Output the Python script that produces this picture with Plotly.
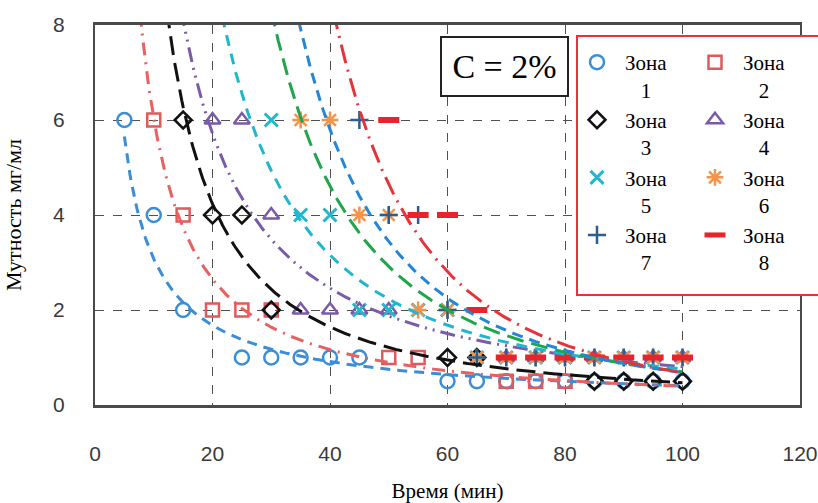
import numpy as np
import plotly.graph_objects as go

# ---------------- data ----------------
zone_labels = ["1", "2", "3", "4", "5", "6", "7", "8"]

z1_t = [5, 10, 15, 25, 30, 35, 40, 45, 60, 65, 70, 75, 80, 85, 90, 95, 100]
z1_y = [6, 4, 2, 1, 1, 1, 1, 1, 0.5, 0.5, 0.5, 0.5, 0.5, 0.5, 0.5, 0.5, 0.5]

z2_t = [10, 15, 20, 25, 30, 50, 55, 70, 75, 80]
z2_y = [6, 4, 2, 2, 2, 1, 1, 0.5, 0.5, 0.5]

z3_t = [15, 20, 25, 30, 60, 65, 85, 90, 95, 100]
z3_y = [6, 4, 4, 2, 1, 1, 0.5, 0.5, 0.5, 0.5]

z4_t = [20, 25, 30, 35, 40, 45, 50, 70, 75, 80, 85, 90, 95, 100]
z4_y = [6, 6, 4, 2, 2, 2, 2, 1, 1, 1, 1, 1, 1, 1]

z5_t = [30, 35, 40, 45, 50, 55, 60, 65, 70, 75, 80, 85, 90, 95, 100]
z5_y = [6, 4, 4, 2, 2, 2, 2, 1, 1, 1, 1, 1, 1, 1, 1]

z6_t = [35, 40, 45, 50, 55, 60, 65, 70, 75, 80, 85, 90, 95, 100]
z6_y = [6, 6, 4, 4, 2, 2, 1, 1, 1, 1, 1, 1, 1, 1]

z7_t = [45, 50, 55, 60, 65, 70, 75, 80, 85, 90, 95, 100]
z7_y = [6, 4, 4, 2, 1, 1, 1, 1, 1, 1, 1, 1]

z8_t = [50, 55, 60, 65, 70, 75, 80, 85, 90, 95, 100]
z8_y = [6, 4, 4, 2, 1, 1, 1, 1, 1, 1, 1]

x_ticks = [0, 20, 40, 60, 80, 100, 120]
y_ticks = [0, 2, 4, 6, 8]
trend_span = [5, 100]   # trend lines drawn over the measured time span

# ---------------- styles ----------------
series = [
    (z1_t, z1_y, dict(symbol="circle-open", size=14, color="#3B8ED6", lw=2.5), "#3B8ED6", "10px,7px"),
    (z2_t, z2_y, dict(symbol="square-open", size=13, color="#E05A5C", lw=2.5), "#E8605F", "13px,7px,2px,7px"),
    (z3_t, z3_y, dict(symbol="diamond-open", size=13, color="#111111", lw=2.5), "#111111", "19px,8px"),
    (z4_t, z4_y, dict(symbol="triangle-up-open", size=14, color="#7A5BA8", lw=2.5), "#7A5BA8", "15px,6px,2px,6px,2px,6px"),
    (z5_t, z5_y, dict(symbol="x-thin-open", size=13, color="#22B8CC", lw=3), "#1FB7D0", "11px,8px"),
    (z6_t, z6_y, dict(symbol="asterisk-open", size=14, color="#F5934B", lw=2.5), "#1FA64A", "17px,8px"),
    (z7_t, z7_y, dict(symbol="cross-thin-open", size=13, color="#2B5E8C", lw=2.5), "#2387D9", "11px,7px"),
    (z8_t, z8_y, dict(symbol="line-ew-open", size=15, color="#E8232B", lw=6), "#E8323A", "19px,7px,2px,7px"),
]

fig = go.Figure()

# markers
for i, (t, y, m, _, _) in enumerate(series):
    label = "Зона<br>" + "\u00a0" * 3 + zone_labels[i]
    fig.add_trace(go.Scatter(
        x=t, y=y, mode="markers", name=label,
        legend="legend" if i % 2 == 0 else "legend2",
        legendgroup="g%d" % i,
        marker=dict(symbol=m["symbol"], size=m["size"], color=m["color"],
                    line=dict(color=m["color"], width=m["lw"])),
        cliponaxis=False,
    ))

# power trend lines (least squares in log-log space, like a spreadsheet power trendline)
tt = np.linspace(trend_span[0], trend_span[1], 400)
for i, (t, y, m, lc, dash) in enumerate(series):
    b, lna = np.polyfit(np.log(t), np.log(y), 1)
    fig.add_trace(go.Scatter(
        x=tt, y=np.exp(lna) * tt ** b, mode="lines", showlegend=False,
        line=dict(color=lc, width=3, dash=dash), hoverinfo="skip",
    ))

L, R, T, B = 95, 18, 25, 98
W, H = 818, 503
pw, ph = W - L - R, H - T - B

def px(xp):
    return (xp - L) / pw

def py(yp):
    return (H - B - yp) / ph

tick_font = dict(family="Liberation Sans", size=21, color="#3a3a3a")
serif = "Liberation Serif"

fig.update_layout(
    width=W, height=H,
    margin=dict(l=L, r=R, t=T, b=B, autoexpand=False),
    paper_bgcolor="white", plot_bgcolor="white",
    xaxis=dict(range=[0, 120], tickvals=x_ticks, ticktext=[str(v) for v in x_ticks],
               showgrid=True, griddash="dash", gridcolor="#505050", gridwidth=1.3,
               zeroline=False, showline=True, mirror=True, linecolor="#4a4a4a", linewidth=2.5,
               ticks="", tickfont=tick_font, ticklabelstandoff=28,
               title=dict(text="Время (мин)", font=dict(family=serif, size=21, color="black"), standoff=24),
               automargin=False),
    yaxis=dict(range=[0, 8], tickvals=y_ticks, ticktext=[str(v) for v in y_ticks],
               showgrid=True, griddash="dash", gridcolor="#505050", gridwidth=1.3,
               zeroline=False, showline=True, mirror=True, linecolor="#4a4a4a", linewidth=2,
               ticks="", tickfont=tick_font, ticklabelstandoff=24,
               title=dict(text="Мутность мг/мл", font=dict(family=serif, size=22, color="black"), standoff=25),
               automargin=False),
    legend=dict(x=px(569), xanchor="left", y=py(42), yanchor="top",
                bgcolor="rgba(0,0,0,0)", borderwidth=0, itemwidth=46, valign="top",
                tracegroupgap=2, traceorder="normal",
                font=dict(family=serif, size=21, color="black")),
    legend2=dict(x=px(687), xanchor="left", y=py(42), yanchor="top",
                 bgcolor="rgba(0,0,0,0)", borderwidth=0, itemwidth=46, valign="top",
                 tracegroupgap=2, traceorder="normal",
                 font=dict(family=serif, size=21, color="black")),
    shapes=[dict(type="rect", xref="paper", yref="paper",
                 x0=px(577), x1=px(822), y0=py(295), y1=py(36),
                 fillcolor="white", line=dict(color="#E8323A", width=2), layer="above")],
    annotations=[dict(text="C = 2%", xref="paper", yref="paper",
                      x=px(504.5), y=py(66.5), xanchor="center", yanchor="middle",
                      showarrow=False,
                      font=dict(family=serif, size=34, color="black"),
                      bgcolor="white", bordercolor="#222222", borderwidth=2, borderpad=3,
                      width=119, height=51)],
)

fig.write_html("out.html")
